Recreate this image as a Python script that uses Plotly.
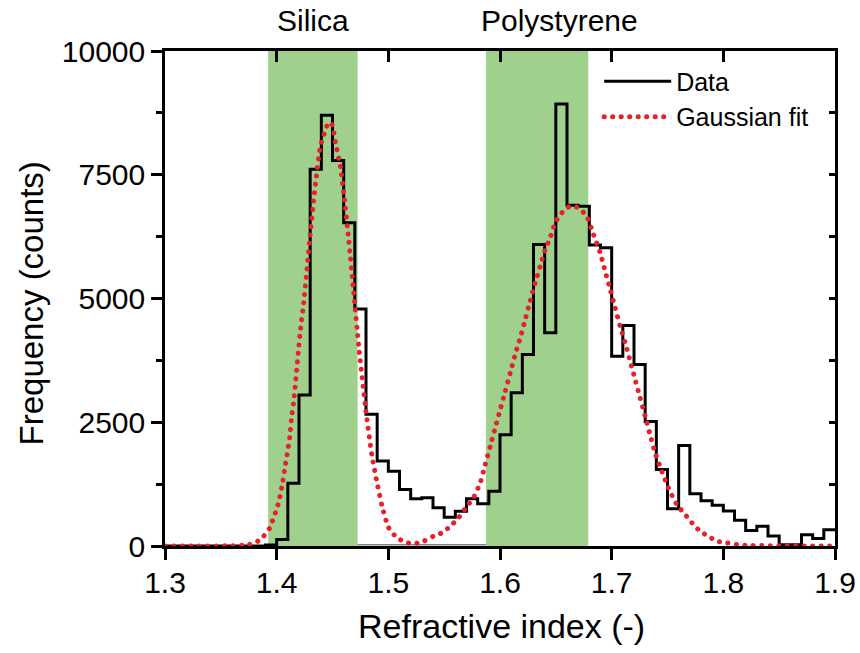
import plotly.graph_objects as go

# ---------------- data ----------------
bin_left = [1.30, 1.31, 1.32, 1.33, 1.34, 1.35, 1.36, 1.37, 1.38, 1.39,
            1.40, 1.41, 1.42, 1.43, 1.44, 1.45, 1.46, 1.47, 1.48, 1.49,
            1.50, 1.51, 1.52, 1.53, 1.54, 1.55, 1.56, 1.57, 1.58, 1.59,
            1.60, 1.61, 1.62, 1.63, 1.64, 1.65, 1.66, 1.67, 1.68, 1.69,
            1.70, 1.71, 1.72, 1.73, 1.74, 1.75, 1.76, 1.77, 1.78, 1.79,
            1.80, 1.81, 1.82, 1.83, 1.84, 1.85, 1.86, 1.87, 1.88, 1.89]
bin_right_end = 1.90
counts = [0, 0, 0, 0, 0, 0, 0, 0, 0, 20,
          130, 1270, 3050, 7610, 8700, 7790, 6530, 4790, 2660, 1715,
          1510, 1140, 955, 975, 775, 580, 700, 955, 855, 1105,
          2250, 3095, 3870, 6090, 4310, 8930, 6885, 6865, 6080, 6025,
          3835, 4455, 3667, 2515, 1545, 755, 2030, 1055, 915, 825,
          705, 520, 315, 400, 200, 25, 25, 225, 150, 330]

fit_x = [1.300, 1.330, 1.360, 1.370, 1.375, 1.381, 1.388, 1.394, 1.397, 1.400,
         1.4022, 1.4054, 1.4078, 1.4093, 1.4117, 1.4132, 1.4153, 1.4168, 1.4183, 1.4197,
         1.4213, 1.4242, 1.4302, 1.4332, 1.4356, 1.4392, 1.4436, 1.4466, 1.4496, 1.4526,
         1.457, 1.460, 1.4645, 1.469, 1.4735, 1.4794, 1.4854, 1.4899, 1.4944, 1.5003,
         1.5078, 1.5167, 1.5242, 1.5316, 1.5405, 1.548, 1.5555, 1.5629, 1.5704, 1.5763,
         1.5823, 1.5868, 1.5913, 1.5957, 1.6002, 1.6047, 1.6092, 1.6136, 1.6181, 1.6226,
         1.627, 1.6315, 1.636, 1.6405, 1.6449, 1.6494, 1.6554, 1.6628, 1.6703, 1.6778,
         1.6837, 1.6897, 1.6942, 1.6987, 1.7031, 1.7076, 1.7121, 1.7166, 1.721, 1.7255,
         1.730, 1.7344, 1.7389, 1.7449, 1.7508, 1.7583, 1.7658, 1.7718, 1.7792, 1.7866,
         1.7941, 1.8031, 1.812, 1.820, 1.850, 1.900]
fit_y = [0, 0, 5, 15, 30, 65, 190, 370, 555, 740,
         920, 1290, 1640, 1840, 2200, 2560, 2930, 3280, 3640, 4000,
         4370, 4910, 6330, 7000, 7470, 8080, 8400, 8560, 8510, 8150,
         7670, 7135, 6190, 5115, 4036, 2824, 1814, 1277, 804, 368,
         166, 65, 50, 97, 198, 267, 400, 570, 804, 974,
         1277, 1646, 2016, 2388, 2758, 3127, 3499, 3869, 4206, 4576,
         4945, 5317, 5653, 5990, 6226, 6529, 6731, 6865, 6832, 6650,
         6293, 5923, 5552, 5182, 4812, 4440, 4105, 3733, 3364, 2994,
         2622, 2253, 1883, 1511, 1176, 838, 636, 469, 299, 198,
         97, 65, 30, 15, 5, 0]

band_names = ["Silica", "Polystyrene"]
band_start = [1.3924, 1.5874]
band_end = [1.4725, 1.679]
label_x = [1.4325, 1.653]

x_range = [1.3, 1.9]
y_range = [0, 10000]
x_ticks = [1.3, 1.4, 1.5, 1.6, 1.7, 1.8, 1.9]
y_ticks = [0, 2500, 5000, 7500, 10000]

x_title = "Refractive index (-)"
y_title = "Frequency (counts)"

# ---------------- styles ----------------
FONT = "Liberation Sans, Arial, Helvetica, sans-serif"
GREEN = "rgb(159,209,140)"
RED = "rgb(232,32,42)"

step_x = bin_left + [bin_right_end]
step_y = counts + [counts[-1]]

fig = go.Figure()
fig.add_trace(go.Scatter(
    x=step_x, y=step_y, mode="lines", line_shape="hv",
    line=dict(color="black", width=3), name="Data"))
fig.add_trace(go.Scatter(
    x=fit_x, y=fit_y, mode="lines", line_shape="spline",
    line=dict(color=RED, width=5, dash="5px,4px", smoothing=0.6),
    name="Gaussian fit"))
# dummy trace to carry the mirrored axes
fig.add_trace(go.Scatter(x=[None], y=[None], xaxis="x2", yaxis="y2",
                         showlegend=False, hoverinfo="skip"))

for s, e in zip(band_start, band_end):
    fig.add_shape(type="rect", xref="x", yref="y", x0=s, x1=e,
                  y0=y_range[0], y1=y_range[1], fillcolor=GREEN,
                  line=dict(width=0), layer="below")
# thin grey baseline between the bands
fig.add_shape(type="line", xref="x", yref="y", x0=band_end[0], x1=band_start[1],
              y0=25, y1=25, line=dict(color="rgb(130,130,130)", width=1.5),
              layer="below")

for name, lx in zip(band_names, label_x):
    fig.add_annotation(x=lx, xref="x", y=1.061, yref="paper", text=name,
                       showarrow=False, xanchor="center", yanchor="middle",
                       font=dict(family=FONT, size=30, color="black"))

# axis titles
fig.add_annotation(x=0.502, xref="paper", y=-0.1625, yref="paper", text=x_title,
                   showarrow=False, xanchor="center", yanchor="middle",
                   font=dict(family=FONT, size=34, color="black"))
fig.add_annotation(x=-0.2, xref="paper", y=0.49, yref="paper", text=y_title,
                   textangle=-90, showarrow=False, xanchor="center",
                   yanchor="middle",
                   font=dict(family=FONT, size=33, color="black"))

axis_common = dict(showgrid=False, zeroline=False, linecolor="black",
                   linewidth=2.5, tickcolor="black", tickwidth=2.5,
                   automargin=False)

fig.update_layout(
    width=860, height=653,
    margin=dict(l=164.5, r=25, t=51, b=106.5, pad=0),
    paper_bgcolor="white", plot_bgcolor="white",
    font=dict(family=FONT, color="black"),
    showlegend=True,
    legend=dict(x=0.648, y=0.985, xanchor="left", yanchor="top",
                bgcolor="rgba(0,0,0,0)", borderwidth=0,
                font=dict(family=FONT, size=25, color="black"),
                itemwidth=67, tracegroupgap=0),
    xaxis=dict(range=x_range, tickvals=x_ticks, ticktext=[str(v) for v in x_ticks],
               ticks="outside", ticklen=11, showline=True,
               ticklabelstandoff=-3,
               tickfont=dict(family=FONT, size=30, color="black"),
               **axis_common),
    yaxis=dict(range=y_range, tickvals=y_ticks,
               ticktext=[str(v) for v in y_ticks],
               ticks="outside", ticklen=11, showline=True,
               minor=dict(dtick=1250, ticks="outside", ticklen=6,
                          tickwidth=2.5, tickcolor="black"),
               tickfont=dict(family=FONT, size=30, color="black"),
               **axis_common),
    xaxis2=dict(range=x_range, overlaying="x", side="top", anchor="y2",
                tickvals=x_ticks, ticks="inside", ticklen=11,
                showticklabels=False, showline=True, **axis_common),
    yaxis2=dict(range=y_range, overlaying="y", side="right", anchor="x2",
                dtick=1250, tick0=0, ticks="inside", ticklen=6,
                showticklabels=False, showline=True, **axis_common),
)

post = """
document.body.style.margin = '0';
document.body.style.padding = '0';
document.querySelectorAll('path').forEach(function(p){
  var s = p.style.stroke || '';
  if (s.replace(/\\s/g,'') === 'rgb(232,32,42)') {
    p.style.strokeLinecap = 'round';
    p.style.strokeDasharray = '0.1px,8.4px';
  }
});
"""

fig.write_html("out.html", post_script=post,
               config={"displayModeBar": False, "responsive": False})
